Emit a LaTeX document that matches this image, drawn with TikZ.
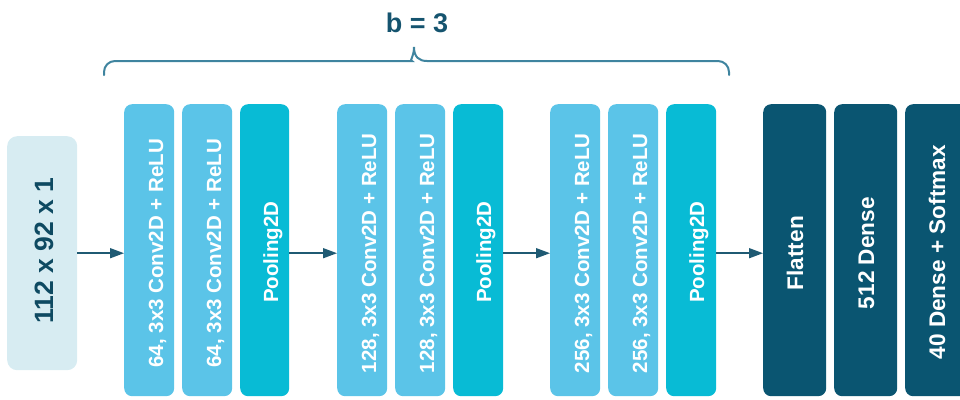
\documentclass[tikz,border=0pt]{standalone}
\usepackage{fontspec}
\setmainfont{Liberation Sans}
\usetikzlibrary{arrows.meta,calc}

\definecolor{convblue}{HTML}{5BC4E8}
\definecolor{poolcyan}{HTML}{08BBD5}
\definecolor{darkteal}{HTML}{0A5571}
\definecolor{inputbg}{HTML}{D7ECF2}
\definecolor{inputtxt}{HTML}{0E4A62}
\definecolor{arrowcol}{HTML}{1F5A73}
\definecolor{bracecol}{HTML}{3F849F}
\definecolor{titlecol}{HTML}{15546F}

\begin{document}
\begin{tikzpicture}[x=1pt,y=-1pt,
  box/.style={rectangle, rounded corners=8pt, inner sep=0pt, draw=none,
    minimum width=50pt, minimum height=292pt, anchor=north west},
  conv/.style={box, fill=convblue},
  pool/.style={box, fill=poolcyan},
  dense/.style={box, fill=darkteal, minimum width=63pt},
  lbl/.style={rotate=90, anchor=base, text=white, inner sep=0pt,
    font=\bfseries\fontsize{20.5}{24}\selectfont},
  dlbl/.style={lbl, font=\bfseries\fontsize{22.6}{26}\selectfont},
  arr/.style={draw=arrowcol, line width=1.5pt,
    -{Triangle[length=14pt,width=10pt]}},
  brace/.style={draw=bracecol, line width=2pt, line cap=round},
]
\useasboundingbox (0,0) rectangle (960,399);
\clip (0,0) rectangle (960,399);

% input
\node[rectangle, rounded corners=10pt, fill=inputbg, inner sep=0pt,
  minimum width=70pt, minimum height=234pt, anchor=north west] (in) at (7,136) {};
\node[rotate=90, anchor=base, text=inputtxt, inner sep=0pt,
  font=\bfseries\fontsize{26.5}{30}\selectfont] (intxt) at ($(in.west)+(46,-2.5)$) {112 x 92 x 1};

% block 1
\node[conv] (c1) at (124,104) {};
\node[conv] (c2) at (182,104) {};
\node[pool, minimum width=49pt] (p1) at (240,104) {};
% block 2
\node[conv] (c3) at (337,104) {};
\node[conv] (c4) at (395,104) {};
\node[pool] (p2) at (453,104) {};
% block 3
\node[conv] (c5) at (550,104) {};
\node[conv] (c6) at (608,104) {};
\node[pool] (p3) at (666,104) {};
% classifier head
\node[dense] (fl) at (763,104) {};
\node[dense] (d1) at (834,104) {};
\node[dense] (d2) at (905,104) {};

% labels
\node[lbl] (c1t) at ($(c1.west)+(39,3)$) {64, 3x3 Conv2D + ReLU};
\node[lbl] (c2t) at ($(c2.west)+(39,3)$) {64, 3x3 Conv2D + ReLU};
\node[lbl] (p1t) at ($(p1.west)+(38,2)$) {Pooling2D};
\node[lbl] (c3t) at ($(c3.west)+(39,3)$) {128, 3x3 Conv2D + ReLU};
\node[lbl] (c4t) at ($(c4.west)+(39,3)$) {128, 3x3 Conv2D + ReLU};
\node[lbl] (p2t) at ($(p2.west)+(38,2)$) {Pooling2D};
\node[lbl] (c5t) at ($(c5.west)+(39,3)$) {256, 3x3 Conv2D + ReLU};
\node[lbl] (c6t) at ($(c6.west)+(39,3)$) {256, 3x3 Conv2D + ReLU};
\node[lbl] (p3t) at ($(p3.west)+(38,2)$) {Pooling2D};
\node[dlbl] (flt) at ($(fl.west)+(40,3)$) {Flatten};
\node[dlbl] (d1t) at ($(d1.west)+(40,3)$) {512 Dense};
\node[dlbl] (d2t) at ($(d2.west)+(40,2)$) {40 Dense + Softmax};

% connectors
\draw[arr] (in.east) -- (in.east -| c1.west);
\draw[arr] (p1.east |- in.east) -- (c3.west |- in.east);
\draw[arr] (p2.east |- in.east) -- (c5.west |- in.east);
\draw[arr] (p3.east |- in.east) -- (fl.west |- in.east);

% brace over the repeated blocks
\draw[brace] [rounded corners=11pt] (104,75) -- (104,61) -- (401,61)
  [sharp corners] .. controls (409,61) and (414,57) .. (414,47)
  .. controls (414,57) and (419,61) .. (427,61)
  [rounded corners=11pt] -- (729,61) -- (729,75);
\node[anchor=base, text=titlecol, inner sep=0pt,
  font=\bfseries\fontsize{27}{30}\selectfont] (bt) at (417,32) {b = 3};
\end{tikzpicture}
\end{document}
